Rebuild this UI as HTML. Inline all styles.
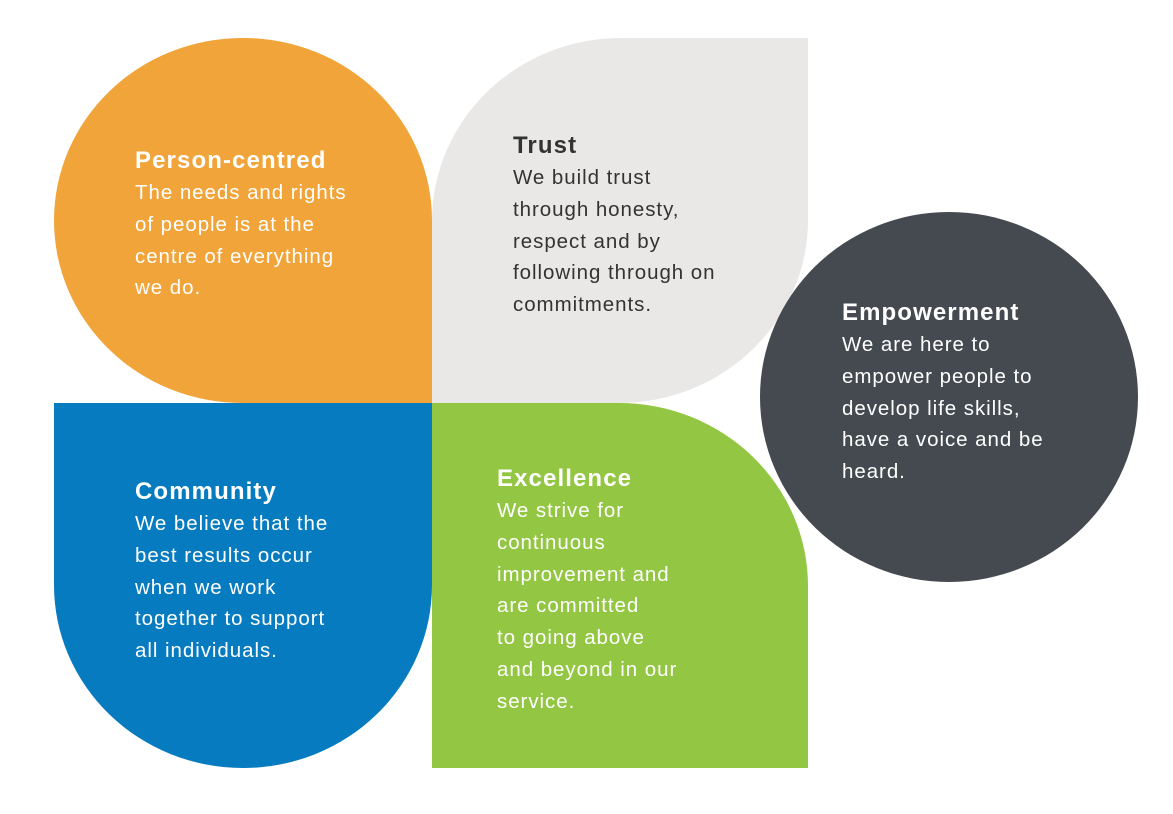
<!DOCTYPE html>
<html><head><style>
body{margin:0;width:1173px;height:814px;background:#fff;position:relative;overflow:hidden;font-family:"Liberation Sans",sans-serif}
.s{position:absolute}
.t{position:absolute;color:#fff;font-size:20.5px;line-height:31.8px;letter-spacing:0.95px;white-space:nowrap}
.t b{display:block;font-size:24px;line-height:32px;margin-bottom:0px;letter-spacing:1.1px}
</style></head><body>
<div class="s" style="left:54px;top:38px;width:378px;height:365px;background:#f1a439;border-radius:189px 189px 0 189px/183px 183px 0 183px"></div>
<div class="s" style="left:432px;top:38px;width:376px;height:365px;background:#e9e8e6;border-radius:189px 0 189px 0/183px 0 183px 0"></div>
<div class="s" style="left:54px;top:403px;width:378px;height:365px;background:#067bbf;border-radius:0 0 189px 189px/0 0 183px 183px"></div>
<div class="s" style="left:432px;top:403px;width:376px;height:365px;background:#93c642;border-radius:0 189px 0 0/0 183px 0 0"></div>
<div class="s" style="left:760px;top:212px;width:378px;height:370px;background:#454a50;border-radius:50%"></div>

<div class="t" style="left:135px;top:145px"><b>Person-centred</b>The needs and rights<br>of people is at the<br>centre of everything<br>we do.</div>
<div class="t" style="left:513px;top:130px;color:#333"><b>Trust</b>We build trust<br>through honesty,<br>respect and by<br>following through on<br>commitments.</div>
<div class="t" style="left:842px;top:297px"><b>Empowerment</b>We are here to<br>empower people to<br>develop life skills,<br>have a voice and be<br>heard.</div>
<div class="t" style="left:135px;top:476px"><b>Community</b>We believe that the<br>best results occur<br>when we work<br>together to support<br>all individuals.</div>
<div class="t" style="left:497px;top:463px"><b>Excellence</b>We strive for<br>continuous<br>improvement and<br>are committed<br>to going above<br>and beyond in our<br>service.</div>
</body></html>
